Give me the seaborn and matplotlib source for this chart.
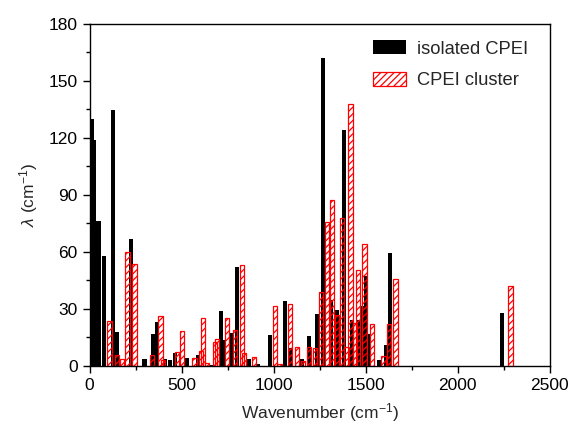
import numpy as np
import pandas as pd
import matplotlib
matplotlib.use('Agg')
import matplotlib.pyplot as plt
from matplotlib.ticker import MultipleLocator
import seaborn as sns

# isolated CPEI: wavenumber (cm-1) and lambda (cm-1)
iso_wn = [12, 26, 48, 79, 128, 146, 225, 298, 343, 365, 410, 435, 463, 529, 589,
          663, 716, 730, 770, 801, 866, 913, 978, 1060, 1096, 1154, 1190, 1233,
          1266, 1312, 1342, 1382, 1427, 1461, 1479, 1499, 1519, 1570, 1610, 1633,
          2241]
iso_lam = [130, 119, 76.5, 57.7, 134.7, 17.7, 66.7, 3.9, 16.7, 23.3, 3.5, 3, 6.7,
           4.4, 5.8, 0.7, 29.1, 13.7, 17.5, 52.1, 3.5, 1, 16.1, 34.2, 9.7, 3.4,
           15.6, 27.2, 162, 34.6, 29.7, 124.4, 24.4, 24, 31.4, 47.2, 16.7, 3.1,
           10.9, 59.5, 28.1]

# CPEI cluster
clu_wn = [108, 149, 176, 205, 243, 339, 386, 400, 473, 502, 569, 605, 615, 638,
          681, 692, 746, 788, 828, 837, 893, 1007, 1032, 1087, 1125, 1160, 1190,
          1224, 1258, 1289, 1315, 1345, 1371, 1395, 1416, 1440, 1459, 1494, 1535,
          1597, 1626, 1662, 2285]
clu_lam = [23.7, 6, 3.5, 60.2, 53.7, 5.8, 26.3, 3, 7.2, 18.4, 4, 7.9, 25, 1.4,
           12.5, 14.4, 25.4, 18.9, 53.2, 7, 4.5, 31.6, 1, 32.5, 10, 2.7, 10, 9.3,
           39, 75.8, 87.2, 27, 78.1, 10, 138.1, 22.7, 50.4, 64.4, 22.3, 5.1, 22.3,
           46, 41.9]


def rel_width(wn, bar_w):
    # seaborn scales width by the smallest gap between positions (native scale)
    return bar_w / np.diff(np.unique(wn)).min()


sns.set_style('ticks')
plt.rcParams['font.family'] = ['Liberation Sans', 'DejaVu Sans']
plt.rcParams['mathtext.fontset'] = 'custom'
plt.rcParams['mathtext.rm'] = 'Liberation Sans'
plt.rcParams['mathtext.it'] = 'Liberation Sans:italic'
plt.rcParams['hatch.linewidth'] = 0.9
plt.rcParams['axes.edgecolor'] = 'black'
plt.rcParams['axes.linewidth'] = 1.0

fig = plt.figure(figsize=(5.71, 4.28), dpi=100)
ax = fig.add_axes([0.157, 0.145, 0.806, 0.799])

iso = pd.DataFrame({'wn': iso_wn, 'lam': iso_lam})
clu = pd.DataFrame({'wn': clu_wn, 'lam': clu_lam})

sns.barplot(data=iso, x='wn', y='lam', native_scale=True, errorbar=None,
            color='black', saturation=1, width=rel_width(iso_wn, 22),
            linewidth=0, label='isolated CPEI', ax=ax)
sns.barplot(data=clu, x='wn', y='lam', native_scale=True, errorbar=None,
            color='red', saturation=1, fill=False, hatch='/////',
            width=rel_width(clu_wn, 24), linewidth=0.9,
            label='CPEI cluster', ax=ax)

ax.set_xlim(0, 2500)
ax.set_ylim(0, 180)
ax.xaxis.set_major_locator(MultipleLocator(500))
ax.xaxis.set_minor_locator(MultipleLocator(250))
ax.yaxis.set_major_locator(MultipleLocator(30))
ax.yaxis.set_minor_locator(MultipleLocator(15))
ax.tick_params(which='both', direction='out', top=False, right=False,
               labelsize=12.5, colors='black', width=1)
ax.tick_params(which='major', length=5)
ax.tick_params(which='minor', length=3)
for s in ax.spines.values():
    s.set_visible(True)
    s.set_color('black')

ax.set_xlabel('Wavenumber (cm$^{-1}$)', fontsize=12.5, labelpad=6)
ax.set_ylabel(r'$\lambda$ (cm$^{-1}$)', fontsize=12.5, labelpad=6)

ax.legend(loc='upper left', bbox_to_anchor=(0.58, 1.0), frameon=False,
          fontsize=13.2, handlelength=1.8, handleheight=0.75,
          handletextpad=0.6, labelspacing=0.8)

fig.savefig('out.png', dpi=100)
